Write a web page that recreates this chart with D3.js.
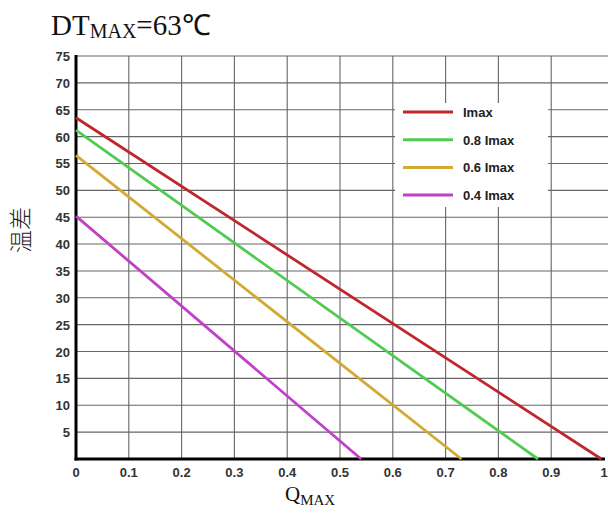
<!DOCTYPE html>
<html lang="zh">
<head>
<meta charset="UTF-8">
<title>DTmax chart</title>
<style>
    body { margin: 0; padding: 0; background: #fff; }
    svg { display: block; }
    .tick-label { font-family: Arial, "Liberation Sans", sans-serif; font-weight: bold; font-size: 13px; fill: #333; }
    .legend-label { font-family: Arial, "Liberation Sans", sans-serif; font-weight: bold; font-size: 13px; fill: #222; }
</style>
<script src="https://d3js.org/d3.v7.min.js"></script>
</head>
<body>
<svg id="chart" width="608" height="520"></svg>
<script>
    // series: temperature difference at Q=0 and Q where it reaches 0
    const seriesNames = ['Imax', '0.8 Imax', '0.6 Imax', '0.4 Imax'];
    const seriesColors = ['#c0262d', '#4fcb4f', '#d2a933', '#c23fc9'];
    const qValues = [
        [0, 0.995],
        [0, 0.875],
        [0, 0.73],
        [0, 0.54]
    ];
    const dtValues = [
        [63.5, 0],
        [61.2, 0],
        [56.5, 0],
        [45.2, 0]
    ];
    const yTicks = [5, 10, 15, 20, 25, 30, 35, 40, 45, 50, 55, 60, 65, 70, 75];
    const xTicks = [0, 0.1, 0.2, 0.3, 0.4, 0.5, 0.6, 0.7, 0.8, 0.9, 1];

    const svg = d3.select('#chart');
    const x = d3.scaleLinear().domain([0, 1]).range([76, 604]);
    const y = d3.scaleLinear().domain([0, 75]).range([459, 56]);

    // grid
    const grid = svg.append('g').attr('stroke', '#666').attr('stroke-width', 1.1);
    grid.selectAll('line.h').data(yTicks).enter().append('line')
        .attr('x1', x(0)).attr('x2', 608)
        .attr('y1', d => y(d)).attr('y2', d => y(d));
    grid.selectAll('line.v').data(xTicks.filter(d => d > 0 && d < 1)).enter().append('line')
        .attr('x1', d => x(d)).attr('x2', d => x(d))
        .attr('y1', y(75)).attr('y2', y(0));

    // legend background covering grid
    svg.append('rect')
        .attr('x', 395).attr('y', 103).attr('width', 153).attr('height', 104)
        .attr('fill', '#fff');

    // axes lines
    svg.append('line').attr('x1', x(0)).attr('x2', x(0)).attr('y1', y(75) - 1).attr('y2', y(0) + 1.5)
        .attr('stroke', '#000').attr('stroke-width', 3);
    svg.append('line').attr('x1', x(0) - 1.5).attr('x2', x(1) + 1).attr('y1', y(0)).attr('y2', y(0))
        .attr('stroke', '#000').attr('stroke-width', 3);

    // tick labels
    svg.selectAll('text.ytick').data(yTicks).enter().append('text')
        .attr('class', 'tick-label')
        .attr('x', 70).attr('y', d => y(d) + 5)
        .attr('text-anchor', 'end')
        .text(d => d);
    svg.selectAll('text.xtick').data(xTicks).enter().append('text')
        .attr('class', 'tick-label')
        .attr('x', d => x(d)).attr('y', 477)
        .attr('text-anchor', 'middle')
        .text(d => d);

    // series lines
    const line = d3.line().x(d => x(d[0])).y(d => y(d[1]));
    seriesNames.forEach((name, i) => {
        const pts = qValues[i].map((q, j) => [q, dtValues[i][j]]);
        svg.append('path')
            .datum(pts)
            .attr('d', line)
            .attr('fill', 'none')
            .attr('stroke', seriesColors[i])
            .attr('stroke-width', 2.8);
    });

    // legend
    const legend = svg.append('g');
    seriesNames.forEach((name, i) => {
        const ly = 112 + i * 27.7;
        legend.append('line')
            .attr('x1', 403).attr('x2', 453).attr('y1', ly).attr('y2', ly)
            .attr('stroke', seriesColors[i]).attr('stroke-width', 3);
        legend.append('text')
            .attr('class', 'legend-label')
            .attr('x', 463).attr('y', ly + 5)
            .text(name);
    });

    // title
    const title = svg.append('text')
        .attr('x', 51).attr('y', 35)
        .attr('font-family', '"Liberation Serif", "Times New Roman", serif')
        .attr('font-size', 29).attr('fill', '#111');
    title.append('tspan').text('DT');
    title.append('tspan').attr('font-size', 20).attr('dy', 3).text('MAX');
    title.append('tspan').attr('dy', -3).text('=63℃');

    // x label
    const xlab = svg.append('text')
        .attr('x', 285).attr('y', 501)
        .attr('font-family', '"Liberation Serif", "Times New Roman", serif')
        .attr('font-size', 21).attr('fill', '#111');
    xlab.append('tspan').text('Q');
    xlab.append('tspan').attr('font-size', 15).attr('dy', 4).text('MAX');

    // y label
    svg.append('text')
        .attr('transform', 'translate(29,230) rotate(-90)')
        .attr('text-anchor', 'middle')
        .attr('font-family', '"Noto Sans CJK SC", sans-serif')
        .attr('font-weight', 300)
        .attr('font-size', 23).attr('fill', '#222')
        .text('温差');
</script>
</body>
</html>
